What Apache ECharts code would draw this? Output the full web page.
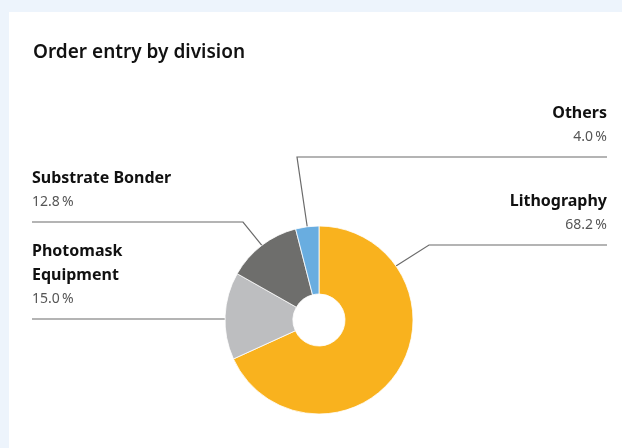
<!DOCTYPE html>
<html>
<head>
<meta charset="utf-8">
<title>Order entry by division</title>
<script src="https://cdn.jsdelivr.net/npm/echarts@6/dist/echarts.min.js"></script>
<style>
  html, body { margin: 0; padding: 0; background: #edf4fc; }
  #chart { width: 622px; height: 448px; }
</style>
</head>
<body>
<div id="chart"></div>
<script>
// Division shares of order entry, in percent, clockwise from 12 o'clock
const divisions = ['Lithography', 'Photomask\nEquipment', 'Substrate Bonder', 'Others'];
const shares = [68.2, 15.0, 12.8, 4.0];
const sliceColors = ['#f9b21e', '#bdbec0', '#6e6e6c', '#69ade0'];

// Donut geometry (px)
const CX = 319, CY = 320, R_IN = 26, R_OUT = 94;
const FONT = '"Noto Sans", "DejaVu Sans", sans-serif';

// Callout placement per slice: which side the text sits on, the y of the
// rule under the text, where the leader bends, and an optional anchor angle
const callouts = [
  { side: 'right', lineY: 245, bendX: 429, angle: 35 },
  { side: 'left',  lineY: 319, bendX: null, angle: 179.3 },
  { side: 'left',  lineY: 222, bendX: 243, angle: null },
  { side: 'right', lineY: 157, bendX: 297, angle: null }
];
const LEFT_X = 32, RIGHT_X = 607;

function midAngle(i) {
  const total = shares.reduce((a, b) => a + b, 0);
  let before = 0;
  for (let k = 0; k < i; k++) before += shares[k];
  const mid = before + shares[i] / 2;
  return 90 - (mid / total) * 360;
}

function anchorPoint(i) {
  const c = callouts[i];
  const a = (c.angle != null ? c.angle : midAngle(i)) * Math.PI / 180;
  return [CX + R_OUT * Math.cos(a), CY - R_OUT * Math.sin(a)];
}

function fmtShare(v) {
  return v.toFixed(1) + '\u2009%';
}

const chart = echarts.init(document.getElementById('chart'), null, { renderer: 'canvas' });

chart.setOption({
  backgroundColor: '#edf4fc',
  animation: false,
  graphic: [{
    type: 'rect',
    z: -10,
    shape: { x: 9, y: 12, width: 613, height: 436 },
    style: { fill: '#ffffff' }
  }],
  title: {
    text: 'Order entry by division',
    left: 33,
    top: 43,
    padding: 0,
    textStyle: { fontFamily: FONT, fontSize: 19, fontWeight: 600, color: '#111111' }
  },
  series: [{
    type: 'pie',
    center: [CX, CY],
    radius: [R_IN, R_OUT],
    startAngle: 90,
    clockwise: true,
    avoidLabelOverlap: false,
    emphasis: { disabled: true },
    itemStyle: { borderColor: '#ffffff', borderWidth: 0.8 },
    data: divisions.map((name, i) => ({
      name: name,
      value: shares[i],
      itemStyle: { color: sliceColors[i] }
    })),
    label: {
      show: true,
      position: 'outside',
      formatter: (p) => {
        const lines = p.name.split('\n').map((s) => '{n|' + s + '}');
        return lines.join('\n') + '\n{v|' + fmtShare(p.value) + '}';
      },
      rich: {
        n: { fontFamily: FONT, fontSize: 16, fontWeight: 'bold', color: '#111111', lineHeight: 24 },
        v: { fontFamily: FONT, fontSize: 14, color: '#555555', lineHeight: 24 }
      }
    },
    labelLine: {
      show: true,
      lineStyle: { color: '#6b6b6b', width: 1.2 }
    },
    labelLayout: (params) => {
      const i = params.dataIndex;
      const c = callouts[i];
      const a = anchorPoint(i);
      const endX = c.side === 'left' ? LEFT_X : RIGHT_X;
      const bend = [c.bendX != null ? c.bendX : a[0], c.lineY];
      return {
        x: endX,
        y: c.lineY - 8,
        align: c.side === 'left' ? 'left' : 'right',
        verticalAlign: 'bottom',
        labelLinePoints: [a, bend, [endX, c.lineY]]
      };
    }
  }]
});
</script>
</body>
</html>
